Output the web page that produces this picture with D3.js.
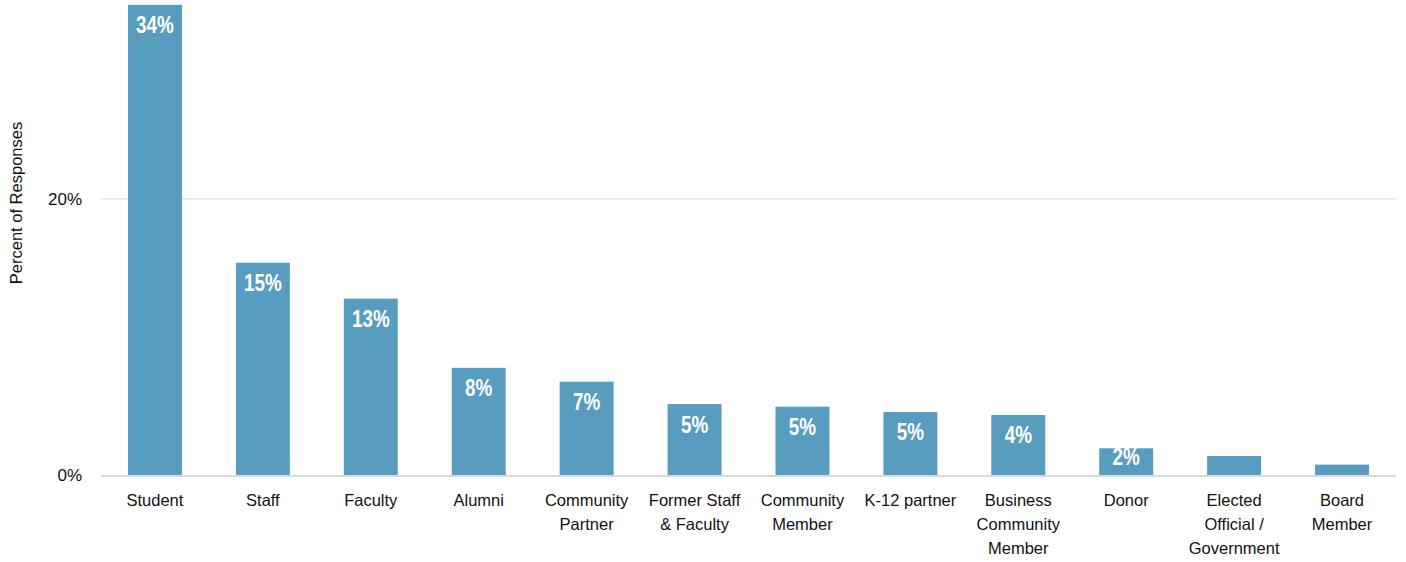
<!DOCTYPE html>
<html>
<head>
<meta charset="utf-8">
<script src="https://cdn.jsdelivr.net/npm/d3@7"></script>
<style>
  html, body { margin: 0; padding: 0; background: #ffffff; }
  svg { display: block; }
  .tick-label, .cat-label, .axis-title { font-family: "Liberation Sans", Arial, sans-serif; fill: #111; }
  .value-label { font-family: "Liberation Sans", Arial, sans-serif; font-weight: bold; fill: #ffffff; }
</style>
</head>
<body>
<svg id="chart" width="1406" height="562"></svg>
<script>
// Respondent groups (multi-line labels split on "\n")
const categories = [
  "Student", "Staff", "Faculty", "Alumni", "Community\nPartner",
  "Former Staff\n& Faculty", "Community\nMember", "K-12 partner",
  "Business\nCommunity\nMember", "Donor", "Elected\nOfficial /\nGovernment", "Board\nMember"
];
// Percent of responses per group
const percentValues = [34.0, 15.35, 12.75, 7.75, 6.75, 5.13, 4.94, 4.56, 4.34, 1.93, 1.37, 0.75];
// Y-axis tick values (percent)
const yTicks = [0, 20];
// Smallest value that still gets a label inside its bar
const labelThreshold = 1.5;

const svg = d3.select("#chart");
const plot = { left: 101, right: 1396, top: 4.8, bottom: 475 };

const x = d3.scaleBand()
  .domain(categories)
  .range([plot.left, plot.right])
  .paddingInner(0.5)
  .paddingOuter(0.25);

const y = d3.scaleLinear()
  .domain([0, 34])
  .range([plot.bottom, plot.top]);

// Gridlines (non-zero ticks)
svg.append("g")
  .selectAll("line")
  .data(yTicks.filter(d => d !== 0))
  .join("line")
  .attr("x1", plot.left).attr("x2", plot.right)
  .attr("y1", d => y(d) + 0.5).attr("y2", d => y(d) + 0.5)
  .attr("stroke", "#d9d9d9").attr("stroke-width", 1);

// Y axis tick labels
const yAxis = d3.axisLeft(y)
  .tickValues(yTicks)
  .tickSize(0)
  .tickPadding(19)
  .tickFormat(d => d + "%");
const yg = svg.append("g")
  .attr("transform", `translate(${plot.left},0)`)
  .call(yAxis);
yg.select(".domain").remove();
yg.selectAll("text")
  .attr("class", "tick-label")
  .attr("font-size", "17px")
  .attr("dy", "0.35em")
  .style("font-family", "'Liberation Sans', Arial, sans-serif")
  .attr("fill", "#111");

const rows = categories.map((c, i) => ({ c, v: percentValues[i] }));

// Bars
svg.append("g")
  .selectAll("rect")
  .data(rows)
  .join("rect")
  .attr("x", d => x(d.c))
  .attr("width", x.bandwidth())
  .attr("y", d => y(d.v))
  .attr("height", d => y(0) - y(d.v))
  .attr("fill", "#589dc0");

// Baseline
svg.append("line")
  .attr("x1", plot.left).attr("x2", plot.right)
  .attr("y1", y(0) + 1).attr("y2", y(0) + 1)
  .attr("stroke", "#d9d9d9").attr("stroke-width", 2);

// Value labels inside bar tops (narrowed bold text)
svg.append("g")
  .selectAll("g")
  .data(rows.filter(d => d.v >= labelThreshold))
  .join("g")
  .attr("transform", d => `translate(${x(d.c) + x.bandwidth() / 2},${Math.min(y(d.v) + 28.5, y(0) - 10)}) scale(0.82,1)`)
  .append("text")
  .attr("class", "value-label")
  .attr("text-anchor", "middle")
  .attr("font-size", "23px")
  .text(d => d3.format(".0f")(d.v) + "%");

// Category labels
const catG = svg.append("g");
categories.forEach(c => {
  const t = catG.append("text")
    .attr("class", "cat-label")
    .attr("x", x(c) + x.bandwidth() / 2)
    .attr("y", 506)
    .attr("text-anchor", "middle")
    .attr("font-size", "16.5px");
  c.split("\n").forEach((line, i) => {
    t.append("tspan")
      .attr("x", x(c) + x.bandwidth() / 2)
      .attr("dy", i === 0 ? 0 : 24)
      .text(line);
  });
});

// Y axis title
svg.append("text")
  .attr("class", "axis-title")
  .attr("transform", "translate(22,203) rotate(-90)")
  .attr("text-anchor", "middle")
  .attr("font-size", "16.5px")
  .text("Percent of Responses");
</script>
</body>
</html>
